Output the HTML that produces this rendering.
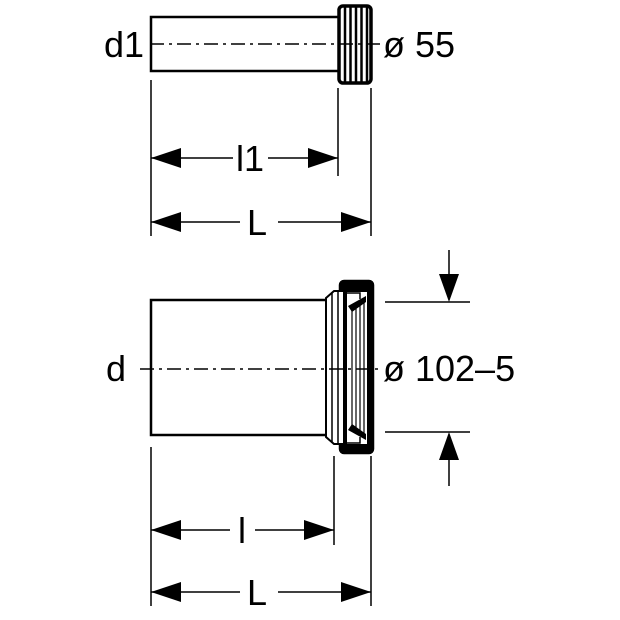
<!DOCTYPE html>
<html><head><style>body{margin:0;background:#fff}svg{display:block}</style></head><body>
<svg width="620" height="620" viewBox="0 0 620 620" xmlns="http://www.w3.org/2000/svg" font-family="Liberation Sans, sans-serif">
<g stroke="#000" fill="none" stroke-width="2.5">
<rect x="151" y="17" width="188" height="54" fill="#fff"/>
<rect x="339" y="6" width="32" height="77" rx="4" fill="#fff" stroke-width="3.5"/>
<g stroke-width="2.5"><line x1="345" y1="7" x2="345" y2="82"/><line x1="350.5" y1="7" x2="350.5" y2="82"/><line x1="356" y1="7" x2="356" y2="82"/><line x1="361.5" y1="7" x2="361.5" y2="82"/><line x1="367" y1="7" x2="367" y2="82"/></g>
<line x1="150" y1="44" x2="380" y2="44" stroke-width="1.5" stroke-dasharray="14,5,3,5"/>
<line x1="151" y1="80" x2="151" y2="236" stroke-width="1.5"/>
<line x1="338" y1="88" x2="338" y2="176" stroke-width="1.5"/>
<line x1="371" y1="88" x2="371" y2="236" stroke-width="1.5"/>
<line x1="151" y1="158" x2="233" y2="158" stroke-width="1.5"/>
<line x1="268" y1="158" x2="338" y2="158" stroke-width="1.5"/>
<line x1="151" y1="222" x2="240" y2="222" stroke-width="1.5"/>
<line x1="278" y1="222" x2="371" y2="222" stroke-width="1.5"/>
<rect x="151" y="300" width="176" height="135" fill="#fff"/>
<rect x="340" y="281" width="33" height="172" rx="4" fill="#000"/>
<path d="M346,292 L367,292 L367,444 L346,444 Z" fill="#fff" stroke="none"/>
<path d="M326,298 L334,291 L344,291 L344,444 L334,444 L326,437 Z" fill="#fff" stroke-width="2"/>
<line x1="332" y1="292" x2="332" y2="443" stroke-width="1.5"/>
<line x1="338" y1="292" x2="338" y2="443" stroke-width="1.5"/>
<g stroke-width="1.2"><line x1="352" y1="306" x2="352" y2="431"/><line x1="356" y1="303" x2="356" y2="434"/><line x1="360" y1="301" x2="360" y2="436"/><line x1="364" y1="299" x2="364" y2="438"/></g>
<line x1="345" y1="290" x2="345" y2="446" stroke-width="4"/>
<path d="M348,306 L366,296 L366,302 L352,312 Z" fill="#000" stroke="none"/>
<path d="M348,430 L366,440 L366,434 L352,424 Z" fill="#000" stroke="none"/>
<path d="M346,293 L360,293 L360,299" stroke-width="1.5"/>
<path d="M346,443 L360,443 L360,437" stroke-width="1.5"/>
<line x1="140" y1="369" x2="380" y2="369" stroke-width="1.5" stroke-dasharray="14,5,3,5"/>
<line x1="151" y1="447" x2="151" y2="606" stroke-width="1.5"/>
<line x1="334" y1="456" x2="334" y2="545" stroke-width="1.5"/>
<line x1="371" y1="456" x2="371" y2="606" stroke-width="1.5"/>
<line x1="151" y1="530" x2="230" y2="530" stroke-width="1.5"/>
<line x1="255" y1="530" x2="334" y2="530" stroke-width="1.5"/>
<line x1="151" y1="592" x2="240" y2="592" stroke-width="1.5"/>
<line x1="278" y1="592" x2="371" y2="592" stroke-width="1.5"/>
<line x1="385" y1="302" x2="470" y2="302" stroke-width="1.5"/>
<line x1="385" y1="432" x2="470" y2="432" stroke-width="1.5"/>
<line x1="449" y1="250" x2="449" y2="280" stroke-width="1.5"/>
<line x1="449" y1="455" x2="449" y2="486" stroke-width="1.5"/>
</g>
<g fill="#000">
<path d="M151,158 L181,148 L181,168Z"/><path d="M338,158 L308,148 L308,168Z"/>
<path d="M151,222 L181,212 L181,232Z"/><path d="M371,222 L341,212 L341,232Z"/>
<path d="M151,530 L181,520 L181,540Z"/><path d="M334,530 L304,520 L304,540Z"/>
<path d="M151,592 L181,582 L181,602Z"/><path d="M371,592 L341,582 L341,602Z"/>
<path d="M449,302 L439,274 L459,274Z"/><path d="M449,432 L439,460 L459,460Z"/>
</g>
<g font-size="36" fill="#000">
<text x="104" y="57">d1</text>
<text x="383" y="57">ø 55</text>
<text x="236" y="171">l1</text>
<text x="247" y="235">L</text>
<text x="106" y="381">d</text>
<text x="383" y="381">ø 102–5</text>
<text x="238" y="543">l</text>
<text x="247" y="605">L</text>
</g>
</svg>
</body></html>
